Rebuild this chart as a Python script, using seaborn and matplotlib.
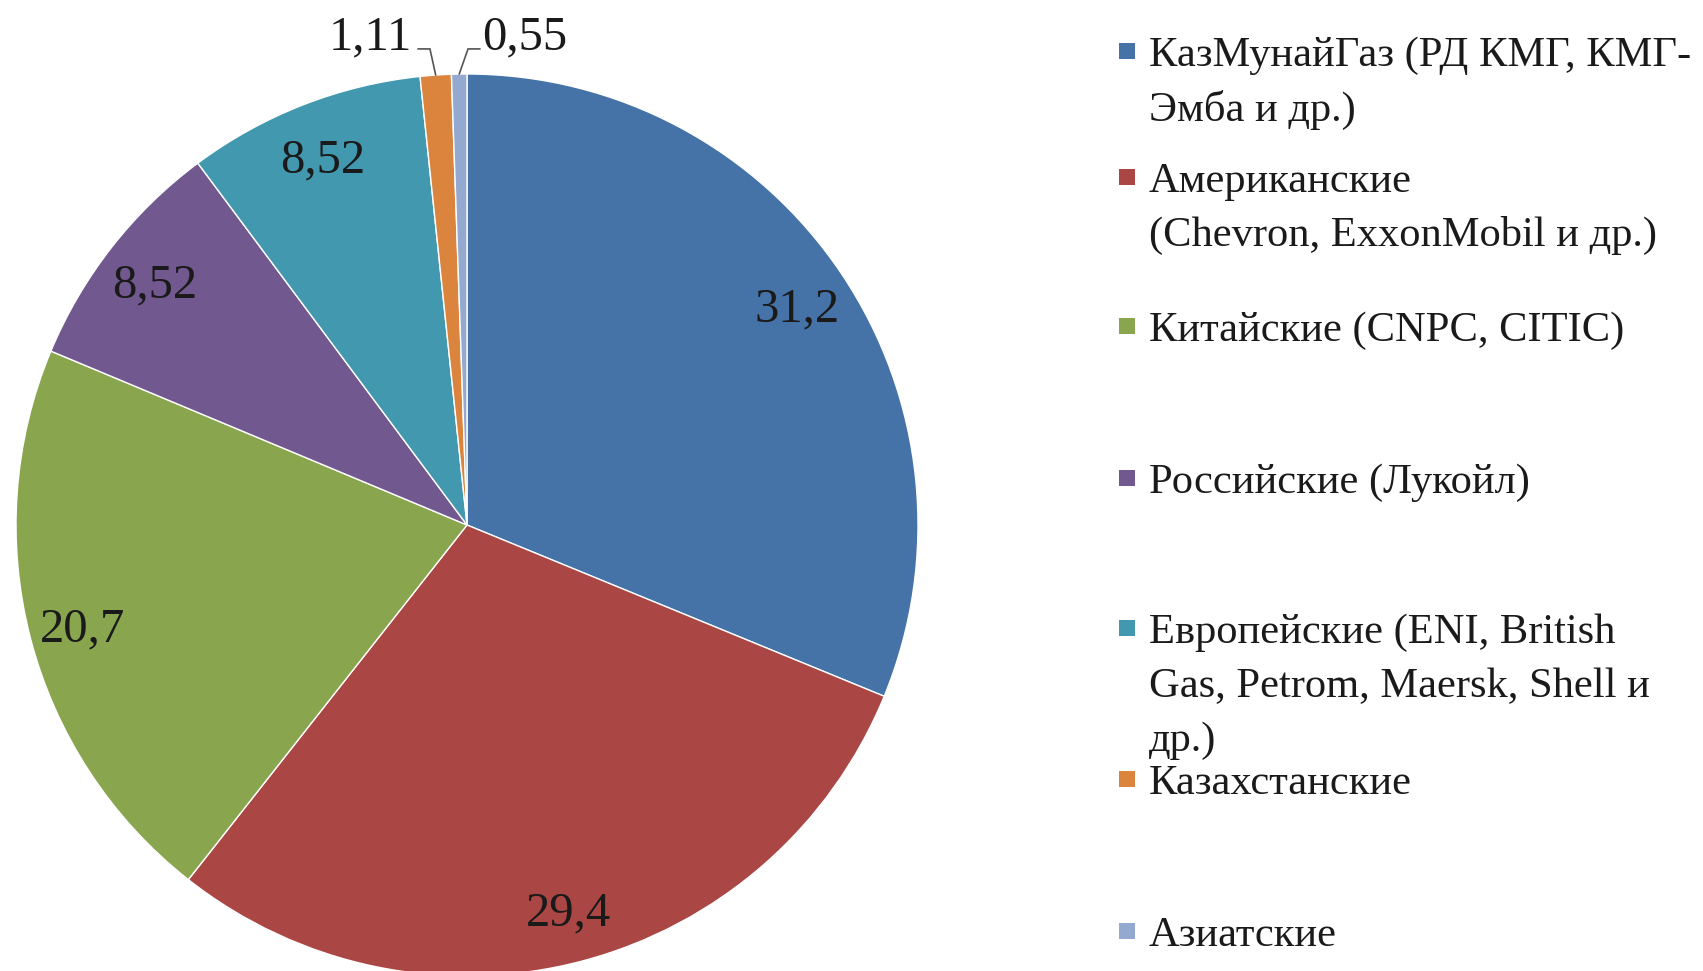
import numpy as np
import matplotlib
matplotlib.use("Agg")
import matplotlib.pyplot as plt
from matplotlib.patches import Rectangle
import seaborn as sns

sns.set_theme(style="white")
plt.rcParams['font.family'] = ['Liberation Serif', 'DejaVu Serif']

# Data
categories = [
    "КазМунайГаз (РД КМГ, КМГ-\nЭмба и др.)",
    "Американские\n(Chevron, ExxonMobil и др.)",
    "Китайские (CNPC, CITIC)",
    "Российские (Лукойл)",
    "Европейские (ENI, British\nGas, Petrom, Maersk, Shell и\nдр.)",
    "Казахстанские",
    "Азиатские",
]
shares = [31.2, 29.4, 20.7, 8.52, 8.52, 1.11, 0.55]
colors = sns.color_palette(["#4572A7", "#AA4643", "#89A54E", "#71588F",
                            "#4198AF", "#DB843D", "#93A9CF"])

# Layout (figure pixels)
W, H = 1703, 971
cx, cy, rad = 467, 525, 451
legend_y = [51, 177, 326, 478, 628, 779, 931]   # centre of first legend line
line_px = 54
text_color = "#1a1a1a"
fs_leg = 30.6
fs_lab = 35

fig = plt.figure(figsize=(W / 100, H / 100), dpi=100)
ax = fig.add_axes([(cx - rad) / W, (H - cy - rad) / H, 2 * rad / W, 2 * rad / H])

wedges, _ = ax.pie(shares, colors=colors, startangle=90, counterclock=False,
                   radius=1, wedgeprops=dict(edgecolor="white", linewidth=1))
ax.set_xlim(-1, 1)
ax.set_ylim(-1, 1)
ax.set_aspect("equal")
ax.axis("off")

# Value labels
small = []
for w, v in zip(wedges, shares):
    mid = np.deg2rad((w.theta1 + w.theta2) / 2)
    txt = f"{v}".replace(".", ",")
    ex, ey = np.cos(mid), np.sin(mid)
    if v > 5:
        ax.text(0.88 * ex, 0.88 * ey, txt, ha="center", va="center_baseline",
                fontsize=fs_lab, color=text_color)
    else:
        side = -1 if ex < -0.03 else 1
        t = ax.text(ex + side * 0.145, 1.08, txt, ha="center", va="center",
                    fontsize=fs_lab, color=text_color, clip_on=False)
        small.append((t, side, ex, ey))

# leader lines from the text edge to the slice edge
fig.canvas.draw()
inv = ax.transData.inverted()
for t, side, ex, ey in small:
    bb = t.get_window_extent()
    edge_px = bb.x1 + 6 if side < 0 else bb.x0 - 2
    ly_px = bb.y0 + 0.25 * bb.height
    sx, sy = inv.transform((edge_px, ly_px))
    kx, _ = inv.transform((edge_px - side * 12, ly_px))
    ax.plot([sx, kx, ex], [sy, sy, ey], color="#555555", lw=1.2,
            clip_on=False, solid_joinstyle="miter")

# Legend
mx, msz, tx0 = 1119, 16, 1149
for lab, col, y in zip(categories, colors, legend_y):
    fig.add_artist(Rectangle((mx / W, (H - y - msz / 2) / H), msz / W, msz / H,
                             transform=fig.transFigure, facecolor=col, edgecolor="none"))
    for i, line in enumerate(lab.split("\n")):
        fig.text(tx0 / W, (H - y - i * line_px) / H, line, ha="left", va="center_baseline",
                 fontsize=fs_leg, color=text_color)

fig.savefig("out.png", dpi=100)
